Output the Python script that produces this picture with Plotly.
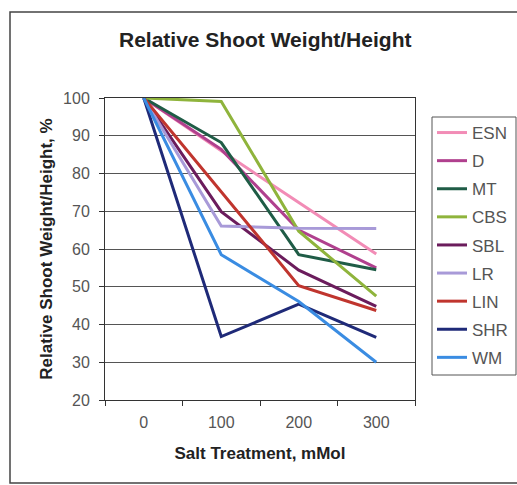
import plotly.graph_objects as go

categories = ["0", "100", "200", "300"]
series_names = ["ESN", "D", "MT", "CBS", "SBL", "LR", "LIN", "SHR", "WM"]
ESN = [100, 86, 72.3, 58.7]
D = [100, 86.4, 65, 55]
MT = [100, 88.2, 58.5, 54.5]
CBS = [100, 99.1, 64.7, 47.5]
SBL = [100, 69.9, 54.4, 44.8]
LR = [100, 66.1, 65.5, 65.4]
LIN = [100, 75, 50.3, 43.7]
SHR = [100, 36.8, 45.4, 36.6]
WM = [100, 58.5, 46.1, 30]
series_values = [ESN, D, MT, CBS, SBL, LR, LIN, SHR, WM]
colors = ["#f28cb6", "#b0408e", "#1f5c46", "#8fb43c", "#6b1c5c",
          "#a89ad8", "#c0352e", "#1f2a78", "#3a8ce2"]

fig = go.Figure()
for name, vals, c in zip(series_names, series_values, colors):
    fig.add_trace(go.Scatter(x=categories, y=vals, name=name, mode="lines",
                             line=dict(color=c, width=3), legendgroup=name))

font = "Liberation Sans, Arial, sans-serif"
# plot area in pixels: x 105..415, y 98..400
def px(x):
    return (x - 105) / 310
def py(y):
    return 1 - (y - 98) / 302

fig.update_layout(
    width=517, height=485,
    margin=dict(l=105, r=102, t=98, b=85, autoexpand=False),
    paper_bgcolor="white", plot_bgcolor="white",
    font=dict(family=font, size=16, color="#555"),
    title=dict(text="<b>Relative Shoot Weight/Height</b>", x=0.513, xanchor="center",
               y=1 - 40 / 485, yanchor="middle",
               font=dict(family=font, size=21, color="#222")),
    showlegend=True,
    legend=dict(x=px(432), y=py(115), xanchor="left", yanchor="top",
                borderwidth=0, bgcolor="rgba(0,0,0,0)", tracegroupgap=3,
                font=dict(family=font, size=17, color="#555"),
                itemwidth=30),
    xaxis=dict(type="category", range=[-0.5, 3.5], tickson="boundaries",
               ticks="outside", ticklen=5, tickcolor="#333",
               showline=True, linecolor="#333", mirror=True, linewidth=1,
               showgrid=False, ticklabelstandoff=8,
               title=dict(text="<b>Salt Treatment, mMol</b>", standoff=16,
                          font=dict(family=font, size=17, color="#222"))),
    yaxis=dict(range=[20, 100], dtick=10, ticks="outside", ticklen=5, tickcolor="#333",
               showline=True, linecolor="#333", mirror=True, linewidth=1,
               showgrid=True, gridcolor="#555", gridwidth=1, zeroline=False,
               ticklabelstandoff=6,
               title=dict(text="<b>Relative Shoot Weight/Height, %</b>", standoff=6,
                          font=dict(family=font, size=17, color="#222"))),
    shapes=[dict(type="rect", xref="paper", yref="paper",
                 x0=px(10), x1=px(530), y0=py(483), y1=py(12),
                 line=dict(color="#444", width=1.5), layer="below"),
            dict(type="rect", xref="paper", yref="paper",
                 x0=px(432), x1=px(516), y0=py(375), y1=py(117),
                 line=dict(color="#555", width=1), layer="below")],
)
fig.write_html("out.html")
